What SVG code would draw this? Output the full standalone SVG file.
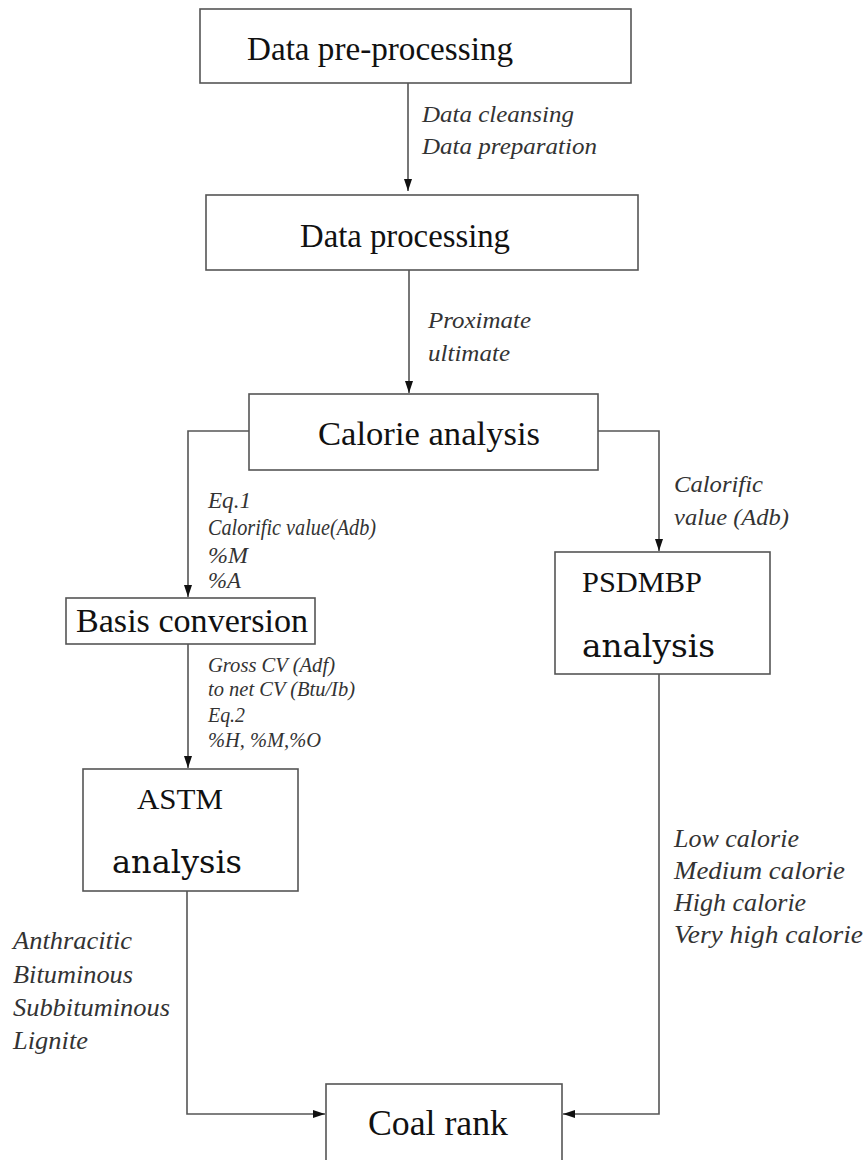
<svg xmlns="http://www.w3.org/2000/svg" width="865" height="1160" viewBox="0 0 865 1160">
<defs>
<style>
.box{fill:#fff;stroke:#555;stroke-width:1.6}
.conn{fill:none;stroke:#555;stroke-width:1.6}
.t{font-family:"Liberation Serif","Times New Roman",serif;fill:#111}
.w{font-family:"DejaVu Serif",serif;fill:#111}
.lab{font-family:"Liberation Serif","Times New Roman",serif;font-style:italic;fill:#333}
</style>
<marker id="ah" viewBox="0 0 12 8" refX="12" refY="4" markerWidth="12" markerHeight="8" orient="auto" markerUnits="userSpaceOnUse">
<path d="M0,0 L12,4 L0,8 z" fill="#111"/>
</marker>
</defs>
<rect width="865" height="1160" fill="#fff"/>
<g id="connectors">
<path class="conn" d="M408,83 V191" marker-end="url(#ah)"/>
<path class="conn" d="M409,270 V393" marker-end="url(#ah)"/>
<path class="conn" d="M249,431 H188 V597" marker-end="url(#ah)"/>
<path class="conn" d="M598,431 H659 V551" marker-end="url(#ah)"/>
<path class="conn" d="M188,644 V768" marker-end="url(#ah)"/>
<path class="conn" d="M187,891 V1114 H325" marker-end="url(#ah)"/>
<path class="conn" d="M659,674 V1114 H563" marker-end="url(#ah)"/>
</g>
<g id="labels">
<text class="lab" font-size="24" x="422" y="122" textLength="152" lengthAdjust="spacingAndGlyphs">Data cleansing</text>
<text class="lab" font-size="24" x="422" y="154" textLength="175" lengthAdjust="spacingAndGlyphs">Data preparation</text>
<text class="lab" font-size="24" x="428" y="328" textLength="103" lengthAdjust="spacingAndGlyphs">Proximate</text>
<text class="lab" font-size="24" x="428" y="361" textLength="82" lengthAdjust="spacingAndGlyphs">ultimate</text>
<text class="lab" font-size="24" x="674" y="492" textLength="89" lengthAdjust="spacingAndGlyphs">Calorific</text>
<text class="lab" font-size="24" x="674" y="525" textLength="115" lengthAdjust="spacingAndGlyphs">value (Adb)</text>
<text class="lab" font-size="23" x="208" y="508" textLength="43" lengthAdjust="spacingAndGlyphs">Eq.1</text>
<text class="lab" font-size="23" x="208" y="535" textLength="168" lengthAdjust="spacingAndGlyphs">Calorific value(Adb)</text>
<text class="lab" font-size="23" x="208" y="563" textLength="40" lengthAdjust="spacingAndGlyphs">%M</text>
<text class="lab" font-size="23" x="208" y="588" textLength="33" lengthAdjust="spacingAndGlyphs">%A</text>
<text class="lab" font-size="21" x="208" y="672" textLength="127" lengthAdjust="spacingAndGlyphs">Gross CV (Adf)</text>
<text class="lab" font-size="21" x="208" y="696" textLength="147" lengthAdjust="spacingAndGlyphs">to net CV (Btu/Ib)</text>
<text class="lab" font-size="21" x="208" y="722" textLength="37" lengthAdjust="spacingAndGlyphs">Eq.2</text>
<text class="lab" font-size="21" x="208" y="747" textLength="113" lengthAdjust="spacingAndGlyphs">%H, %M,%O</text>
<text class="lab" font-size="26" x="13" y="949" textLength="119" lengthAdjust="spacingAndGlyphs">Anthracitic</text>
<text class="lab" font-size="26" x="13" y="983" textLength="120" lengthAdjust="spacingAndGlyphs">Bituminous</text>
<text class="lab" font-size="26" x="13" y="1016" textLength="157" lengthAdjust="spacingAndGlyphs">Subbituminous</text>
<text class="lab" font-size="26" x="13" y="1049" textLength="75" lengthAdjust="spacingAndGlyphs">Lignite</text>
<text class="lab" font-size="26" x="674" y="847">Low calorie</text>
<text class="lab" font-size="26" x="674" y="879" textLength="171" lengthAdjust="spacingAndGlyphs">Medium calorie</text>
<text class="lab" font-size="26" x="674" y="911">High calorie</text>
<text class="lab" font-size="26" x="674" y="943" textLength="189" lengthAdjust="spacingAndGlyphs">Very high calorie</text>
</g>
<g id="pre">
<rect class="box" x="200" y="9" width="431" height="74"/>
<text class="t" font-size="33" x="247" y="60" textLength="266" lengthAdjust="spacingAndGlyphs">Data pre-processing</text>
</g>
<g id="proc">
<rect class="box" x="206" y="195" width="432" height="75"/>
<text class="t" font-size="33" x="300" y="247" textLength="210" lengthAdjust="spacingAndGlyphs">Data processing</text>
</g>
<g id="calorie">
<rect class="box" x="249" y="394" width="349" height="76"/>
<text class="t" font-size="34" x="318" y="445" textLength="222" lengthAdjust="spacingAndGlyphs">Calorie analysis</text>
</g>
<g id="basis">
<rect class="box" x="66" y="598" width="249" height="46"/>
<text class="t" font-size="34" x="76" y="632" textLength="232" lengthAdjust="spacingAndGlyphs">Basis conversion</text>
</g>
<g id="psdmbp">
<rect class="box" x="555" y="552" width="215" height="122"/>
<text class="t" font-size="30" x="582" y="592" textLength="120" lengthAdjust="spacingAndGlyphs">PSDMBP</text>
<text class="w" font-size="32" x="582" y="657" textLength="133" lengthAdjust="spacingAndGlyphs">analysis</text>
</g>
<g id="astm">
<rect class="box" x="83" y="769" width="215" height="122"/>
<text class="t" font-size="30" x="137" y="809" textLength="86" lengthAdjust="spacingAndGlyphs">ASTM</text>
<text class="w" font-size="32" x="112" y="873" textLength="130" lengthAdjust="spacingAndGlyphs">analysis</text>
</g>
<g id="coal">
<rect class="box" x="326" y="1084" width="236" height="90"/>
<text class="t" font-size="35" x="368" y="1135" textLength="140" lengthAdjust="spacingAndGlyphs">Coal rank</text>
</g>
</svg>
